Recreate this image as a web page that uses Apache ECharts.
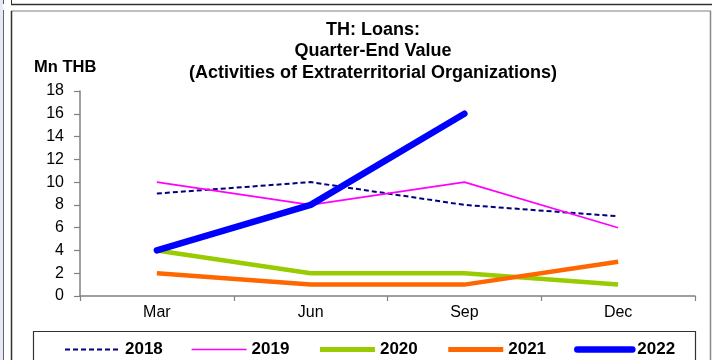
<!DOCTYPE html>
<html>
<head>
<meta charset="utf-8">
<script src="https://cdn.jsdelivr.net/npm/echarts@6/dist/echarts.min.js"></script>
<style>
html,body{margin:0;padding:0;background:#fff;}
#chart{width:712px;height:360px;}
</style>
</head>
<body>
<div id="chart"></div>
<script>
const categories = ['Mar', 'Jun', 'Sep', 'Dec'];
const yTicks = [0, 2, 4, 6, 8, 10, 12, 14, 16, 18];
const titleLines = ['TH: Loans:', 'Quarter-End Value', '(Activities of Extraterritorial Organizations)'];
const unitLabel = 'Mn THB';
const seriesNames = ['2018', '2019', '2020', '2021', '2022'];
const v2018 = [9, 10, 8, 7];
const v2019 = [10, 8, 10, 6];
const v2020 = [4, 2, 2, 1];
const v2021 = [2, 1, 1, 3];
const v2022 = [4, 8, 16, null];

const FONT = '"Liberation Sans", Arial, sans-serif';
const styles = {
  '2018': {color: '#000080', width: 2, type: [5, 3], cap: 'butt'},
  '2019': {color: '#FF00FF', width: 1.6, type: 'solid', cap: 'butt'},
  '2020': {color: '#99CC00', width: 4.5, type: 'solid', cap: 'butt'},
  '2021': {color: '#FF6600', width: 4.5, type: 'solid', cap: 'butt'},
  '2022': {color: '#0000FF', width: 6.5, type: 'solid', cap: 'round'}
};
const values = {'2018': v2018, '2019': v2019, '2020': v2020, '2021': v2021, '2022': v2022};

const chart = echarts.init(document.getElementById('chart'), null, {renderer: 'canvas'});

const series = seriesNames.map(n => ({
  name: n,
  type: 'line',
  data: values[n],
  symbol: 'none',
  showSymbol: false,
  smooth: false,
  connectNulls: false,
  silent: true,
  z: n === '2022' ? 5 : 3,
  lineStyle: {color: styles[n].color, width: styles[n].width, type: styles[n].type, cap: styles[n].cap, join: 'round'},
  itemStyle: {color: styles[n].color}
}));

const option = {
  animation: false,
  backgroundColor: '#ffffff',
  grid: {left: 80, right: 17, top: 91, bottom: 64, containLabel: false},
  graphic: [
    {type: 'rect', shape: {x: 0, y: 0, width: 3, height: 360}, style: {fill: '#e6eaf6'}, silent: true},
    {type: 'line', shape: {x1: 3.5, y1: 0, x2: 3.5, y2: 4}, style: {stroke: '#555', lineWidth: 1}, silent: true},
    {type: 'line', shape: {x1: 3.5, y1: 10, x2: 3.5, y2: 360}, style: {stroke: '#666', lineWidth: 1}, silent: true},
    {type: 'line', shape: {x1: 11.5, y1: 0, x2: 11.5, y2: 4.5}, style: {stroke: '#333', lineWidth: 1}, silent: true},
    {type: 'line', shape: {x1: 11, y1: 4.5, x2: 712, y2: 4.5}, style: {stroke: '#333', lineWidth: 1.5}, silent: true},
    {type: 'line', shape: {x1: 11, y1: 11, x2: 711, y2: 11}, style: {stroke: '#aaa', lineWidth: 1.5}, silent: true},
    {type: 'line', shape: {x1: 11.5, y1: 11, x2: 11.5, y2: 360}, style: {stroke: '#333', lineWidth: 1.5}, silent: true},
    {type: 'line', shape: {x1: 710.5, y1: 11, x2: 710.5, y2: 360}, style: {stroke: '#888', lineWidth: 1.5}, silent: true},
    {type: 'rect', shape: {x: 33.5, y: 331.5, width: 662, height: 40}, style: {fill: 'none', stroke: '#333', lineWidth: 1.2}, silent: true},
    {type: 'text', x: 373, y: 19, style: {text: titleLines.join('\n'), align: 'center', verticalAlign: 'top', font: 'bold 18px ' + FONT, fill: '#000', lineHeight: 21.5}, silent: true},
    {type: 'text', x: 34, y: 59, style: {text: unitLabel, align: 'left', verticalAlign: 'top', font: 'bold 16.5px ' + FONT, fill: '#000'}, silent: true}
  ],
  legend: {
    show: true,
    left: 64,
    top: 341,
    itemWidth: 55,
    itemHeight: 14,
    itemGap: 28,
    padding: 0,
    selectedMode: false,
    textStyle: {fontFamily: FONT, fontSize: 17, fontWeight: 'bold', color: '#000'},
    data: seriesNames.map(n => ({
      name: n,
      lineStyle: {color: styles[n].color, width: styles[n].width + (n === '2020' || n === '2021' ? 0.5 : 0), type: styles[n].type, cap: styles[n].cap},
      itemStyle: {color: styles[n].color, opacity: 0, borderWidth: 0}
    }))
  },
  xAxis: {
    type: 'category',
    data: categories,
    boundaryGap: true,
    axisLine: {show: true, lineStyle: {color: '#808080', width: 1.5}},
    axisTick: {show: true, length: 5, inside: false, alignWithLabel: false, lineStyle: {color: '#808080', width: 1.2}},
    axisLabel: {fontFamily: FONT, fontSize: 16, color: '#000', margin: 9},
    splitLine: {show: false}
  },
  yAxis: {
    type: 'value',
    min: yTicks[0],
    max: yTicks[yTicks.length - 1],
    interval: yTicks[1] - yTicks[0],
    axisLine: {show: true, lineStyle: {color: '#808080', width: 1.5}},
    axisTick: {show: true, length: 6, inside: false, lineStyle: {color: '#808080', width: 1.2}},
    axisLabel: {fontFamily: FONT, fontSize: 16, color: '#000', margin: 16},
    splitLine: {show: false}
  },
  series: series
};
chart.setOption(option);
</script>
</body>
</html>
